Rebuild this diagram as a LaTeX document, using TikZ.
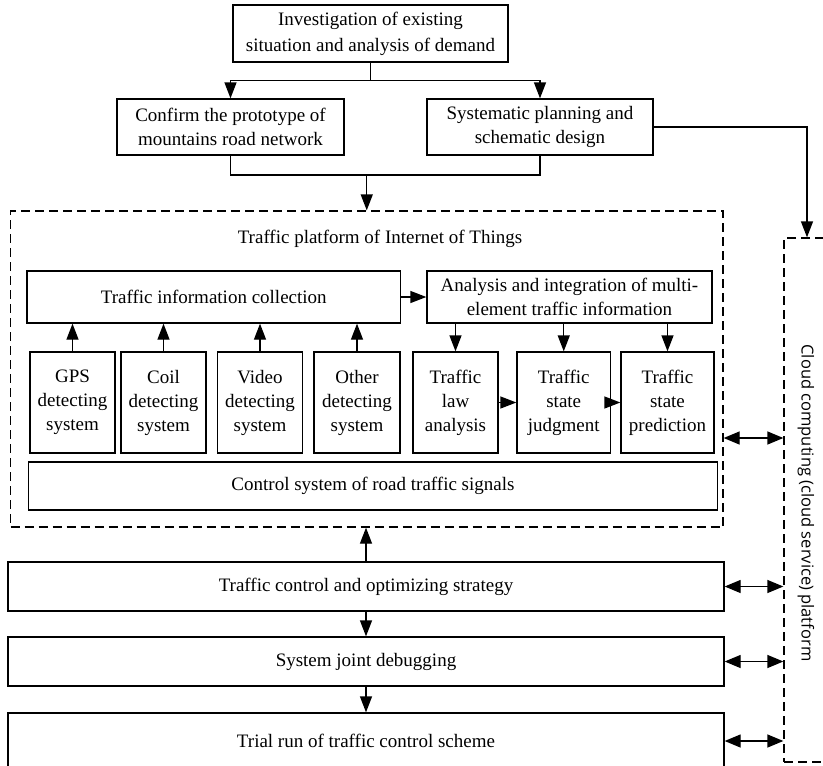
\documentclass[tikz,border=0pt]{standalone}
\usepackage{fontspec}
\setmainfont{Liberation Serif}
\newfontfamily\cloudfont{Open Sans}
\usetikzlibrary{arrows.meta,calc}
\begin{document}
\begin{tikzpicture}[x=1pt,y=-1pt,
  box/.style={draw, line width=1.3pt, inner sep=0pt, align=center, font=\fontsize{19pt}{24pt}\selectfont},
  dbox/.style={draw, line width=1.3pt, dash pattern=on 9pt off 5pt, inner sep=0pt},
  lbl/.style={inner sep=0pt, font=\fontsize{19pt}{24pt}\selectfont},
  ln/.style={line width=1.3pt},
  arr/.style={line width=1.3pt, -{Triangle[length=16pt,width=12pt]}},
  darr/.style={line width=1.3pt, {Triangle[length=16pt,width=13pt]}-{Triangle[length=16pt,width=13pt]}}]
\useasboundingbox (0,0) rectangle (823,766);

% top part
\node[box, minimum width=275pt, minimum height=57pt, font=\fontsize{19pt}{26pt}\selectfont] (top) at (370.5,33.5) {Investigation of existing\\situation and analysis of demand};
\node[box, minimum width=227pt, minimum height=56pt] (confirm) at (230.5,127) {Confirm the prototype of\\mountains road network};
\node[box, minimum width=226pt, minimum height=56pt] (sys) at (540,127) {Systematic planning and\\schematic design};

% platform
\node[dbox, minimum width=712.5pt, minimum height=316pt] (plat) at (366.75,369) {};
\node[lbl] (title) at (380,239) {Traffic platform of Internet of Things};
\node[box, minimum width=373.5pt, minimum height=52pt] (coll) at (213.75,297) {Traffic information collection};
\node[box, minimum width=285pt, minimum height=52pt] (anal) at (569.5,297) {Analysis and integration of multi-\\element traffic information};

\node[box, minimum width=85pt, minimum height=101pt] (gps) at (72.5,402.5) {GPS\\detecting\\system};
\node[box, minimum width=85pt, minimum height=101pt] (coil) at (163.5,402.5) {Coil\\detecting\\system};
\node[box, minimum width=85pt, minimum height=101pt] (video) at (260,402.5) {Video\\detecting\\system};
\node[box, minimum width=86pt, minimum height=101pt] (other) at (357,402.5) {Other\\detecting\\system};
\node[box, minimum width=85pt, minimum height=101pt] (law) at (455.5,402.5) {Traffic\\law\\analysis};
\node[box, minimum width=93.5pt, minimum height=101pt] (judg) at (563.75,402.5) {Traffic\\state\\judgment};
\node[box, minimum width=93pt, minimum height=101pt] (pred) at (667.5,402.5) {Traffic\\state\\prediction};
\node[box, minimum width=688.5pt, minimum height=48pt] (control) at (373,486) {Control system of road traffic signals};

% lower chain
\node[box, minimum width=716pt, minimum height=49pt] (tctrl) at (366,586.5) {Traffic control and optimizing strategy};
\node[box, minimum width=716pt, minimum height=49pt] (joint) at (366,661.5) {System joint debugging};
\node[box, minimum width=716pt, minimum height=56pt] (trial) at (366,741) {Trial run of traffic control scheme};

% cloud platform
\node[dbox, minimum width=66pt, minimum height=524pt] (cloud) at (817,500) {};
\node[inner sep=0pt, rotate=-90, font=\cloudfont\fontsize{16.5pt}{20pt}\selectfont] (cloudlbl) at (806,503) {Cloud computing (cloud service) platform};

% connectors top
\coordinate (j1) at ($(top.south)+(0,18)$);
\draw[ln] (top.south) -- (j1);
\draw[arr] (j1) -| (confirm.north);
\draw[arr] (j1) -| (sys.north);
\coordinate (lv) at (0,175);
\draw[ln] (confirm.south) |- (sys.south |- lv) -- (sys.south);
\draw[arr] (plat.north |- lv) -- (plat.north);
\coordinate (cx) at (807,0);
\draw[arr] (sys.east) -| (cx |- cloud.north);

% inside platform
\draw[arr] (coll.east) -- (anal.west);
\foreach \b in {gps,coil,video,other}
  \draw[arr] (\b.north) -- (\b.north |- coll.south);
\foreach \b in {law,judg,pred}
  \draw[arr] (anal.south -| \b.north) -- (\b.north);
\draw[arr] (law.east) -- (judg.west);
\draw[arr] (judg.east) -- (pred.west);

% lower chain
\draw[arr] (tctrl.north) -- (tctrl.north |- plat.south);
\draw[arr] (tctrl.south) -- (joint.north);
\draw[arr] (joint.south) -- (trial.north);

% double arrows to cloud
\coordinate (yp) at (0,438);
\draw[darr] (plat.east |- yp) -- (cloud.west |- yp);
\draw[darr] (tctrl.east) -- (cloud.west |- tctrl.east);
\draw[darr] (joint.east) -- (cloud.west |- joint.east);
\draw[darr] (trial.east) -- (cloud.west |- trial.east);
\end{tikzpicture}
\end{document}
